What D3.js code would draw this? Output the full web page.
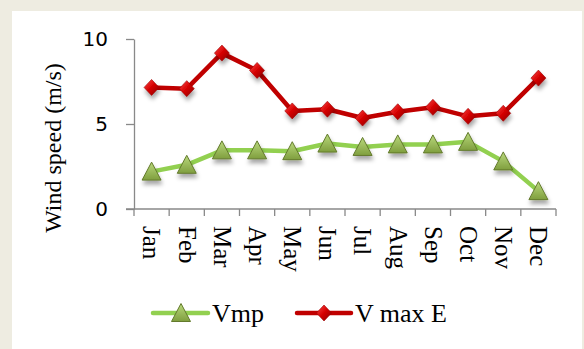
<!DOCTYPE html>
<html><head><meta charset="utf-8">
<script src="https://cdn.jsdelivr.net/npm/d3@7"></script>
<style>html,body{margin:0;padding:0;background:#EEECE1;}svg{display:block;}</style>
</head><body>
<svg id="c" width="584" height="349"></svg>
<script>
const months = ["Jan","Feb","Mar","Apr","May","Jun","Jul","Aug","Sep","Oct","Nov","Dec"];
const vmp = [2.2, 2.6, 3.45, 3.45, 3.4, 3.85, 3.65, 3.8, 3.8, 3.95, 2.8, 1.05];
const vmaxE = [7.15, 7.08, 9.17, 8.15, 5.77, 5.87, 5.35, 5.72, 5.98, 5.45, 5.63, 7.7];
const yTicks = [0, 5, 10];
const seriesNames = ["Vmp", "V max E"];

const svg = d3.select("#c");
const defs = svg.append("defs");
const dg = defs.append("linearGradient").attr("id","dg").attr("x1","0").attr("y1","0").attr("x2","1").attr("y2","1");
dg.append("stop").attr("offset","0").attr("stop-color","#ff4a4a");
dg.append("stop").attr("offset","0.5").attr("stop-color","#d40000");
dg.append("stop").attr("offset","1").attr("stop-color","#8a0000");
const tg = defs.append("linearGradient").attr("id","tg").attr("x1","0").attr("y1","0").attr("x2","0").attr("y2","1");
tg.append("stop").attr("offset","0").attr("stop-color","#b9d97c");
tg.append("stop").attr("offset","1").attr("stop-color","#7f9e3e");
const sh = defs.append("filter").attr("id","sh").attr("x","-50%").attr("y","-50%").attr("width","200%").attr("height","220%");
sh.append("feDropShadow").attr("dx",1).attr("dy",4).attr("stdDeviation",2).attr("flood-color","#000").attr("flood-opacity",0.35);

svg.append("rect").attr("x",12).attr("y",11).attr("width",570).attr("height",338).attr("fill","#ffffff");

const x = d3.scaleBand().domain(months).range([134, 556]);
const y = d3.scaleLinear().domain([0, 10]).range([209, 39]);
const axisColor = "#898989";
const serif = "Liberation Serif, Times New Roman, serif";

// y axis
const yAxis = d3.axisLeft(y).tickValues(yTicks).tickSize(8).tickSizeOuter(0).tickFormat(d3.format("d"));
const gy = svg.append("g").attr("transform","translate(134,0)").call(yAxis);
gy.select(".domain").attr("stroke",axisColor).attr("stroke-width",1.3);
gy.selectAll(".tick line").attr("stroke",axisColor).attr("stroke-width",1.3);
gy.selectAll(".tick text").attr("x",-26).attr("font-family","DejaVu Sans, sans-serif").attr("font-size",20).attr("fill","#000");

// x axis
const gx = svg.append("g").attr("transform","translate(0,209)");
gx.append("line").attr("x1",126).attr("x2",x.range()[1]).attr("y1",0).attr("y2",0).attr("stroke",axisColor).attr("stroke-width",1.3);
const edges = months.map(m => x(m)).concat([x.range()[1]]);
gx.selectAll("line.t").data(edges).join("line").attr("class","t")
  .attr("x1",d=>d).attr("x2",d=>d).attr("y1",0).attr("y2",7).attr("stroke",axisColor).attr("stroke-width",1.3);
gx.selectAll("text").data(months).join("text")
  .attr("transform",d=>`translate(${x(d)+x.bandwidth()/2},17) rotate(90)`)
  .attr("dy","0.33em").attr("text-anchor","start")
  .attr("font-family",serif).attr("font-size",25).attr("fill","#000")
  .text(d=>d);

// y title
svg.append("text").attr("transform","translate(61,148) rotate(-90)").attr("text-anchor","middle")
  .attr("font-family",serif).attr("font-size",24).attr("fill","#000")
  .text("Wind speed (m/s)");

const cx = d => x(d) + x.bandwidth()/2;
const line = d3.line().x((d,i)=>cx(months[i])).y(d=>y(d));

const diamond = "M0,-8L7.5,0L0,8L-7.5,0Z";
const tri = "M0,-9.5L9.5,8.5L-9.5,8.5Z";

svg.append("path").datum(vmp).attr("d",line).attr("fill","none").attr("stroke","#92D050").attr("stroke-width",4.5).attr("stroke-linejoin","round");
svg.append("path").datum(vmaxE).attr("d",line).attr("fill","none").attr("stroke","#C00000").attr("stroke-width",4.5).attr("stroke-linejoin","round");

svg.append("g").selectAll("path").data(vmaxE).join("path")
  .attr("transform",(d,i)=>`translate(${cx(months[i])},${y(d)})`).attr("d",diamond)
  .attr("fill","url(#dg)").attr("stroke","#9a0000").attr("stroke-width",0.6).attr("filter","url(#sh)");
svg.append("g").selectAll("path").data(vmp).join("path")
  .attr("transform",(d,i)=>`translate(${cx(months[i])},${y(d)})`).attr("d",tri)
  .attr("fill","url(#tg)").attr("stroke","#637a2c").attr("stroke-width",1).attr("filter","url(#sh)");

// legend
const lg = svg.append("g");
lg.append("line").attr("x1",153).attr("x2",208).attr("y1",313).attr("y2",313).attr("stroke","#92D050").attr("stroke-width",4.5).attr("stroke-linecap","round");
lg.append("path").attr("transform","translate(181,313)").attr("d",tri).attr("fill","url(#tg)").attr("stroke","#637a2c").attr("stroke-width",1);
lg.append("text").attr("x",212).attr("y",322).attr("font-family",serif).attr("font-size",26).attr("fill","#000").text(seriesNames[0]);
lg.append("line").attr("x1",297).attr("x2",351).attr("y1",313).attr("y2",313).attr("stroke","#C00000").attr("stroke-width",4.5).attr("stroke-linecap","round");
lg.append("path").attr("transform","translate(324,313)").attr("d",diamond).attr("fill","url(#dg)").attr("stroke","#9a0000").attr("stroke-width",0.6);
lg.append("text").attr("x",355).attr("y",322).attr("font-family",serif).attr("font-size",26).attr("fill","#000").text(seriesNames[1]);
</script>
</body></html>
